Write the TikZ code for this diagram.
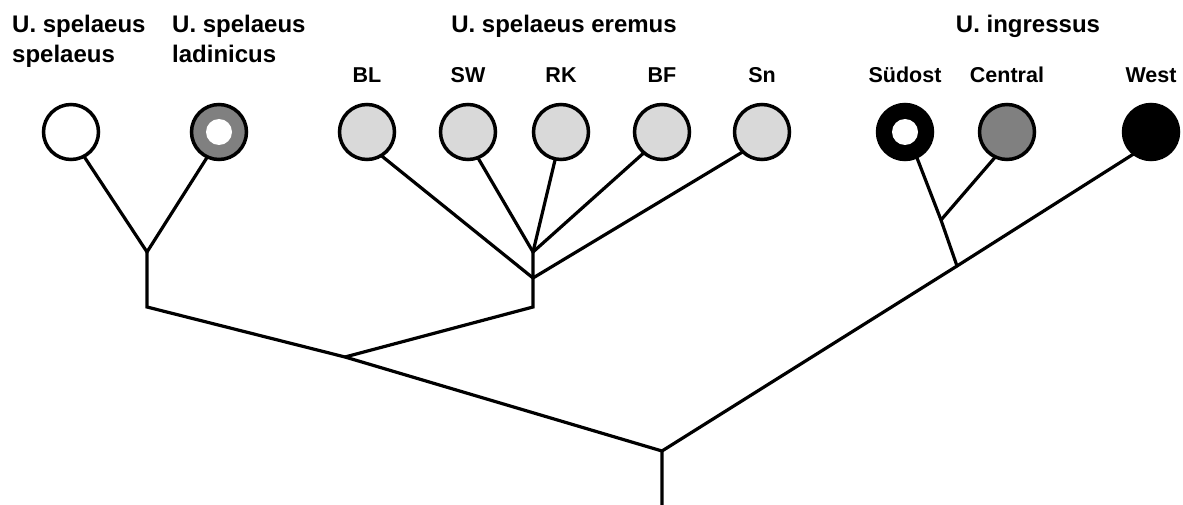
\documentclass[tikz,border=0pt]{standalone}
\usepackage{fontspec}
\setmainfont{Liberation Sans}
\definecolor{lightgrey}{HTML}{D9D9D9}
\definecolor{midgrey}{HTML}{808080}
\begin{document}
\begin{tikzpicture}[x=1pt,y=-1pt,
  branch/.style={line width=3.2pt, line cap=round, line join=miter},
  taxon/.style={circle, draw=black, line width=3.5pt, minimum size=55pt, inner sep=0pt, outer sep=0pt},
  hole/.style={circle, fill=white, minimum size=26pt, inner sep=0pt, outer sep=0pt},
  head/.style={font=\bfseries\fontsize{24}{30}\selectfont, inner sep=0pt},
  sub/.style={font=\bfseries\fontsize{21.5}{26}\selectfont, inner sep=0pt, anchor=base}]
\useasboundingbox[fill=white] (0,0) rectangle (1183,505);

% headings
\node[head, anchor=north west, align=left] (hss) at (12,14.8) {U. spelaeus\\spelaeus};
\node[head, anchor=north west, align=left] (hsl) at (172,14.8) {U. spelaeus\\ladinicus};
\node[head, anchor=base] (hse) at (564,32.5) {U. spelaeus eremus};
\node[head, anchor=base] (hin) at (1028,32.5) {U. ingressus};

% sub labels
\node[sub] (lbl) at (367,83) {BL};
\node[sub] (lsw) at (468,83) {SW};
\node[sub] (lrk) at (561,83) {RK};
\node[sub] (lbf) at (662,83) {BF};
\node[sub] (lsn) at (762,83) {Sn};
\node[sub] (lsu) at (905,83) {Südost};
\node[sub] (lce) at (1007,83) {Central};
\node[sub] (lwe) at (1151,83) {West};

% taxa
\node[taxon, fill=white] (uss) at (71,132) {};
\node[taxon, fill=midgrey] (usl) at (219,132) {};
\node[hole] (uslh) at (219,132) {};
\node[taxon, fill=lightgrey] (bl) at (367,132) {};
\node[taxon, fill=lightgrey] (sw) at (468,132) {};
\node[taxon, fill=lightgrey] (rk) at (561,132) {};
\node[taxon, fill=lightgrey] (bf) at (662,132) {};
\node[taxon, fill=lightgrey] (sn) at (762,132) {};
\node[taxon, fill=black] (sud) at (905,132) {};
\node[hole] (sudh) at (905,132) {};
\node[taxon, fill=midgrey] (cen) at (1007,132) {};
\node[taxon, fill=black] (wes) at (1151,132) {};

% junctions
\coordinate (j1) at (147,252);
\coordinate (j1b) at (147,307);
\coordinate (je1) at (533,252);
\coordinate (je2) at (533,278);
\coordinate (je3) at (533,307);
\coordinate (jm) at (345,357);
\coordinate (jr) at (662,451);
\coordinate (root) at (662,505);
\coordinate (ji) at (957,266);
\coordinate (jc) at (941,220);

% branches
\draw[branch] (uss.-62) -- (j1) -- (usl.-115);
\draw[branch] (j1) -- (j1b) -- (jm) -- (jr) -- (root);
\draw[branch] (jm) -- (je3) -- (je1);
\draw[branch] (bl.-59) -- (je2) -- (sn.-134);
\draw[branch] (sw.-69) -- (je1) -- (bf.-131);
\draw[branch] (rk.-102) -- (je1);
\draw[branch] (jr) -- (ji) -- (wes.-128);
\draw[branch] (ji) -- (jc) -- (sud.-65);
\draw[branch] (jc) -- (cen.-115);
\end{tikzpicture}
\end{document}
